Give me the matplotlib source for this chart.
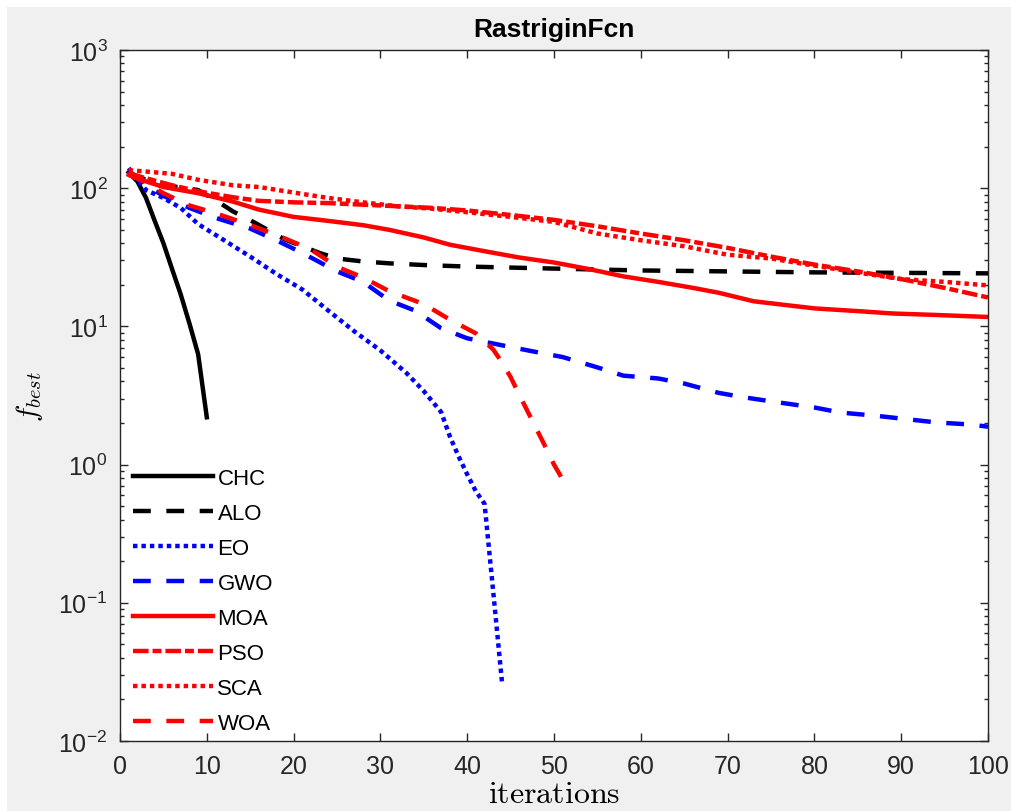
import matplotlib
matplotlib.use('Agg')
import matplotlib.pyplot as plt
from matplotlib.patches import Rectangle
from matplotlib.ticker import FixedLocator, LogLocator, NullFormatter

plt.rcParams['font.family'] = ['Liberation Sans', 'DejaVu Sans']
plt.rcParams['mathtext.fontset'] = 'cm'

# convergence curves (iteration, best fitness)
chc_x = [1, 2, 3, 4, 5, 6, 7, 8, 9, 10]
chc_y = [130, 112, 85, 58, 40, 26, 17, 10.5, 6.3, 2.2]

alo_x = [1, 3, 5, 7, 9, 11, 13, 15, 17, 19, 21, 23, 25, 28, 31, 35, 40, 50, 60, 70, 80, 90, 100]
alo_y = [130, 115, 106, 101, 97, 82, 68, 58.7, 50, 42.5, 38, 34, 31, 29.5, 28.6, 27.8, 27.1,
         26.2, 25.4, 25, 24.6, 24.4, 24.2]

eo_x = [1, 2, 3, 5, 7, 9, 12, 15, 18, 21, 24, 27, 30, 33, 35, 37, 38, 39, 40, 41, 42, 43, 44]
eo_y = [140, 115, 97, 85, 72, 55, 42, 32, 24, 18.5, 13, 9.2, 6.7, 4.6, 3.4, 2.4, 1.6, 1.15,
        0.85, 0.64, 0.52, 0.12, 0.027]

gwo_x = [1, 3, 5, 8, 11, 15, 18, 21, 25, 28, 31, 34, 37, 40, 44, 47, 51, 55, 58, 62, 65, 69,
         72, 76, 80, 83, 87, 91, 94, 98, 100]
gwo_y = [130, 105, 88, 72, 61, 51, 42, 34, 25, 21, 15.4, 13, 9.7, 8.2, 7.3, 6.7, 6.0, 5.05,
         4.4, 4.2, 3.86, 3.3, 3.06, 2.81, 2.59, 2.38, 2.26, 2.12, 2.02, 1.95, 1.88]

moa_x = [1, 3, 5, 9, 13, 16, 20, 24, 28, 31, 35, 38, 42, 46, 50, 54, 58, 62, 66, 69, 73, 77,
         80, 85, 89, 94, 100]
moa_y = [125, 112, 102, 92, 80, 70, 62, 58, 54, 50, 44, 39, 35, 31.5, 29, 26, 23, 21, 19,
         17.5, 15.2, 14.2, 13.5, 12.9, 12.4, 12.1, 11.7]

pso_x = [1, 3, 6, 9, 13, 16, 20, 24, 28, 32, 36, 40, 45, 50, 55, 60, 65, 70, 75, 80, 85, 90, 95, 100]
pso_y = [128, 118, 105, 95, 86, 81, 79, 78, 76, 74, 72, 69, 64, 59, 53, 47, 42, 37, 32, 28,
         25, 22, 19, 16.2]

sca_x = [1, 3, 6, 9, 13, 16, 20, 24, 28, 32, 36, 40, 45, 50, 55, 60, 65, 70, 75, 80, 85, 90, 95, 100]
sca_y = [135, 132, 127, 115, 105, 102, 93, 85, 79, 74, 71, 67, 62, 57, 47, 42, 38, 33, 31,
         27.5, 24.5, 22, 21, 19.8]

woa_x = [1, 3, 5, 8, 11, 15, 18, 22, 25, 28, 31, 35, 38, 41, 43, 44, 45, 46, 47, 48, 49, 50, 51]
woa_y = [125, 110, 92, 75, 66, 54, 46, 36, 27, 22.6, 18, 14.5, 11.2, 8.9, 6.8, 5.5, 4.3, 3.2,
         2.4, 1.8, 1.35, 1.0, 0.78]

dashed = (0, (4, 3.5))
dotted = (0, (1, 0.9))
dashdot = (0, (3.5, 0.9, 2, 0.9))

fig = plt.figure(figsize=(10.11, 8.12), dpi=100, facecolor='white')
fig.patches.append(Rectangle((7 / 1011, 0), 1, 1 - 8 / 812, transform=fig.transFigure,
                             facecolor='#f0f0f0', edgecolor='none', zorder=-10))
ax = fig.add_axes([120 / 1011, 1 - 742 / 812, 868 / 1011, 691 / 812])

lw = 3.2
ax.plot(chc_x, chc_y, color='black', lw=lw, ls='-', label='CHC')
ax.plot(alo_x, alo_y, color='black', lw=lw, ls=dashed, label='ALO')
ax.plot(eo_x, eo_y, color='#0000ff', lw=lw, ls=dotted, label='EO')
ax.plot(gwo_x, gwo_y, color='#0000ff', lw=lw, ls=dashed, label='GWO')
ax.plot(moa_x, moa_y, color='#ff0000', lw=lw, ls='-', label='MOA')
ax.plot(pso_x, pso_y, color='#ff0000', lw=lw, ls=dashdot, label='PSO')
ax.plot(sca_x, sca_y, color='#ff0000', lw=lw, ls=dotted, label='SCA')
ax.plot(woa_x, woa_y, color='#ff0000', lw=lw, ls=dashed, label='WOA')

ax.set_yscale('log')
ax.set_xlim(0, 100)
ax.set_ylim(1e-2, 1e3)
ax.xaxis.set_major_locator(FixedLocator(range(0, 101, 10)))
ax.yaxis.set_major_locator(FixedLocator([1e-2, 1e-1, 1e0, 1e1, 1e2, 1e3]))
ax.set_yticklabels([r'$\mathregular{10^{%d}}$' % e for e in range(-2, 4)])
ax.yaxis.set_minor_locator(LogLocator(base=10, subs=range(2, 10), numticks=20))
ax.yaxis.set_minor_formatter(NullFormatter())

ax.tick_params(which='both', direction='in', top=True, right=True, colors='#262626',
               labelsize=18, width=1)
ax.tick_params(which='major', length=6, pad=9)
ax.tick_params(which='minor', length=3)
for s in ax.spines.values():
    s.set_color('#262626')
    s.set_linewidth(1)

ax.set_title('RastriginFcn', fontsize=19, fontweight='bold', pad=10)
ax.set_xlabel(r'$\mathrm{iterations}$', fontsize=23, labelpad=1)
ax.set_ylabel(r'$f_{best}$', fontsize=21)
ax.yaxis.set_label_coords(-0.086, 0.5)

ax.legend(loc='lower left', bbox_to_anchor=(0.015, 0.01), frameon=False, fontsize=16,
          handlelength=3.6, handletextpad=0.2, labelspacing=0.63, borderpad=0,
          borderaxespad=0)

fig.savefig('out.png', dpi=100, facecolor=fig.get_facecolor())
